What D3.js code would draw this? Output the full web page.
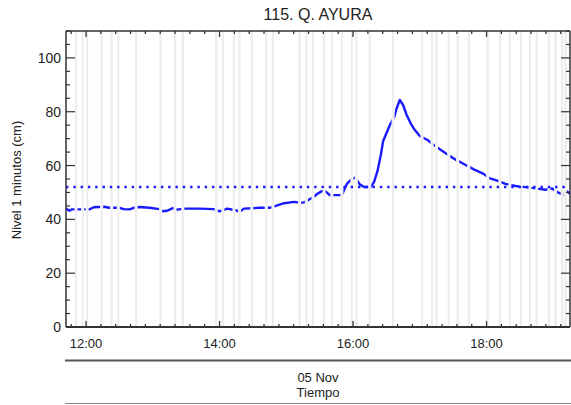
<!DOCTYPE html>
<html><head><meta charset="utf-8">
<script src="https://cdn.jsdelivr.net/npm/d3@7"></script>
<style>body{margin:0;background:#fff}svg{display:block;font-family:"Liberation Sans",Arial,sans-serif}</style>
</head><body><svg id="c" width="571" height="405"></svg>
<script>
const title = "115. Q. AYURA";
const yLabel = "Nivel 1 minutos (cm)";
const dateLabel = "05 Nov";
const xLabel = "Tiempo";
const times = ["11:42","11:45","11:47","12:03","12:07","12:16","12:21","12:30","12:34","12:39","12:43","12:48","12:57","13:06","13:09","13:13","13:18","13:22","13:29","13:42","13:55","14:00","14:07","14:15","14:18","14:22","14:36","14:45","14:54","14:58","15:07","15:12","15:16","15:21","15:25","15:28","15:32","15:35","15:39","15:48","15:50","15:52","15:55","15:59","16:02","16:06","16:10","16:16","16:19","16:22","16:25","16:27","16:30","16:33","16:37","16:39","16:42","16:45","16:48","16:52","16:55","17:00","17:07","17:13","17:20","17:27","17:33","17:40","17:49","17:57","18:03","18:09","18:17","18:26","18:35","18:44","18:53","18:59","19:04","19:10","19:12","19:15"];
const levels = [44,43.2,43.7,43.7,44.5,44.7,44.3,44.3,43.8,43.7,44.3,44.6,44.3,43.8,43,43.2,44.2,43.6,44,44,43.8,43,44,43.3,42.8,44,44.3,44.3,45.5,46,46.5,46.2,46.3,47.5,48.5,49.5,50.5,50.5,49,49,49,51,53.5,55,55.5,53,52,52,54,58,64,69,72,75,78,81,84.4,82.5,79,75.5,73.5,71,69.5,67.5,65.5,63.5,62,60.5,58.5,57,55.2,54.5,53.2,52.4,52,51.5,51,51.5,50,49,50.5,49.5];
const gapTimes = ["11:51","11:57","12:01","12:14","12:23","12:29","12:45","13:07","13:20","13:27","13:57","14:03","14:13","14:18","14:29","14:42","14:48","15:12","15:18","15:24","15:34","15:41","15:50","15:59","16:03","16:15","16:36","17:02","17:11","17:15","17:26","17:34","17:44","18:01","18:12","18:21","18:31","18:39","18:45","18:56","19:02","19:08","19:11"];
const referenceLevel = 52;
const yTicks = [0,20,40,60,80,100];
const xTickLabels = ["12:00","14:00","16:00","18:00"];
const xStart = "11:42", xEnd = "19:15";
const yMax = 110;

const toDate = s => { const [h,m] = s.split(":").map(Number); return new Date(2023,10,5,h,m); };
const svg = d3.select("#c");
const L = 66, R = 570, T = 31, B = 327;
const x = d3.scaleTime().domain([toDate(xStart), toDate(xEnd)]).range([L, R]);
const y = d3.scaleLinear().domain([0, yMax]).range([B, T]);
const axisCol = "#333";

// gray gap lines
svg.append("g").selectAll("line").data(gapTimes).join("line")
  .attr("x1", d => x(toDate(d))).attr("x2", d => x(toDate(d)))
  .attr("y1", T).attr("y2", B).attr("stroke", "#ededed").attr("stroke-width", 2.2);

// mask for line breaks
const defs = svg.append("defs");
const mask = defs.append("mask").attr("id", "gapmask").attr("maskUnits","userSpaceOnUse")
  .attr("x",0).attr("y",0).attr("width",571).attr("height",405);
mask.append("rect").attr("x",0).attr("y",0).attr("width",571).attr("height",405).attr("fill","#fff");
mask.selectAll("rect.g").data(gapTimes).join("rect").attr("class","g")
  .attr("x", d => x(toDate(d)) - 1.5).attr("width", 3).attr("y", T).attr("height", B - T).attr("fill","#000");

// reference dotted line
svg.append("line").attr("x1", L).attr("x2", R).attr("y1", y(referenceLevel)).attr("y2", y(referenceLevel))
  .attr("stroke", "#1a1aff").attr("stroke-width", 2.5).attr("stroke-dasharray", "2.4,4.9");

// data line
const pts = times.map((t,i) => [toDate(t), levels[i]]);
svg.append("path").datum(pts)
  .attr("d", d3.line().x(d => x(d[0])).y(d => y(d[1])))
  .attr("fill","none").attr("stroke","#1a1aff").attr("stroke-width",2.4)
  .attr("stroke-linejoin","round").attr("mask","url(#gapmask)");

// axes frame
const frame = svg.append("g").attr("stroke", axisCol).attr("fill","none");
frame.append("line").attr("x1",L).attr("x2",R).attr("y1",T).attr("y2",T).attr("stroke-width",1.5);
frame.append("line").attr("x1",L).attr("x2",R).attr("y1",B).attr("y2",B).attr("stroke-width",2);
frame.append("line").attr("x1",L).attr("x2",L).attr("y1",T).attr("y2",B).attr("stroke-width",1.5);
frame.append("line").attr("x1",R).attr("x2",R).attr("y1",T).attr("y2",B).attr("stroke-width",1.5);

// y ticks
const yMinor = d3.range(0, yMax + 0.01, 5);
yMinor.forEach(v => {
  const major = v % 20 === 0;
  const len = major ? 9 : 4;
  frame.append("line").attr("x1",L).attr("x2",L+len).attr("y1",y(v)).attr("y2",y(v)).attr("stroke-width",1.2);
  frame.append("line").attr("x1",R).attr("x2",R-len).attr("y1",y(v)).attr("y2",y(v)).attr("stroke-width",1.2);
});
svg.append("g").selectAll("text").data(yTicks).join("text")
  .attr("x", L - 5).attr("y", d => y(d) + 5).attr("text-anchor","end")
  .attr("font-size", 14).attr("fill","#222").text(d => d);

// x ticks: major every 2h, 9 minor intervals
const majorStep = 120 * 60000, minorStep = majorStep / 9;
const t0 = toDate(xTickLabels[0]).getTime();
const [d0, d1] = x.domain().map(d => d.getTime());
for (let k = Math.ceil((d0 - t0) / minorStep); t0 + k * minorStep <= d1; k++) {
  const tv = new Date(t0 + k * minorStep);
  const major = k % 9 === 0;
  const len = major ? 6 : 3;
  const xp = x(tv);
  frame.append("line").attr("x1",xp).attr("x2",xp).attr("y1",B).attr("y2",B-len).attr("stroke-width",1.3);
  frame.append("line").attr("x1",xp).attr("x2",xp).attr("y1",T).attr("y2",T+len).attr("stroke-width",1.3);
}
svg.append("g").selectAll("text").data(xTickLabels).join("text")
  .attr("x", d => x(toDate(d))).attr("y", 348).attr("text-anchor","middle")
  .attr("font-size", 13).attr("fill","#222").text(d => d);

// lower panel
svg.append("line").attr("x1",L-1).attr("x2",571).attr("y1",360.5).attr("y2",360.5).attr("stroke","#555").attr("stroke-width",2.2);
svg.append("line").attr("x1",L-1).attr("x2",571).attr("y1",403.5).attr("y2",403.5).attr("stroke","#888").attr("stroke-width",1);
svg.append("text").attr("x",(L+R)/2).attr("y",381.5).attr("text-anchor","middle").attr("font-size",13).attr("fill","#222").text(dateLabel);
svg.append("text").attr("x",(L+R)/2).attr("y",397).attr("text-anchor","middle").attr("font-size",13).attr("fill","#222").text(xLabel);

// title and y label
svg.append("text").attr("x",(L+R)/2).attr("y",20).attr("text-anchor","middle").attr("font-size",16).attr("fill","#222").text(title);
svg.append("text").attr("transform","translate(21,180) rotate(-90)").attr("text-anchor","middle").attr("font-size",13).attr("fill","#222").text(yLabel);
</script></body></html>
